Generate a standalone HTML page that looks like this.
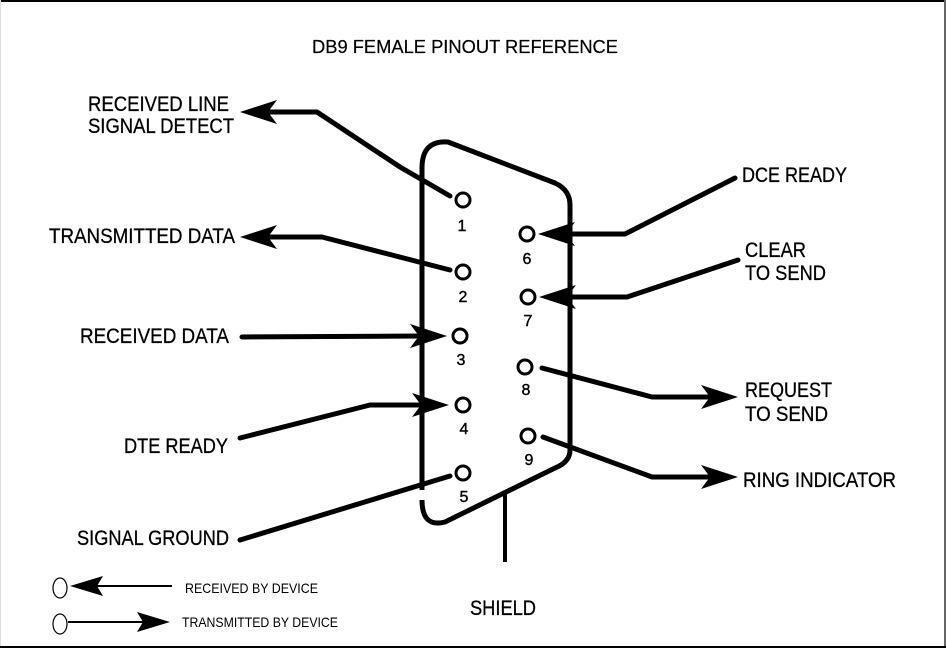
<!DOCTYPE html>
<html><head><meta charset="utf-8"><style>
html,body{margin:0;padding:0;background:#fff;}
svg{display:block;}
text{font-family:"Liberation Sans",sans-serif;fill:#000;}
</style></head><body>
<svg width="946" height="650" viewBox="0 0 946 650" xmlns="http://www.w3.org/2000/svg">
<rect x="0" y="0" width="946" height="650" fill="#fff"/>
<line x1="0" y1="1" x2="946" y2="1" stroke="#000" stroke-width="2"/>
<line x1="945" y1="0" x2="945" y2="648" stroke="#666" stroke-width="2"/>
<line x1="0.5" y1="0" x2="0.5" y2="648" stroke="#ddd" stroke-width="1"/>
<line x1="0" y1="647" x2="946" y2="647" stroke="#000" stroke-width="2"/>

<text x="312" y="53" font-size="18" textLength="306" lengthAdjust="spacingAndGlyphs" stroke="#000" stroke-width="0.2">DB9 FEMALE PINOUT REFERENCE</text>

<!-- connector shell -->
<path d="M422,490 L422,168 Q422,140 448,142 L555,183 Q570,190 570,205 L570,450 Q570,462 555,468 L445,522 Q422,528 422,500" fill="none" stroke="#000" stroke-width="5" stroke-linejoin="round"/>
<line x1="505" y1="493" x2="505" y2="562" stroke="#000" stroke-width="4"/>

<g fill="#fff" stroke="#000" stroke-width="3">
<circle cx="463" cy="200" r="7"/>
<circle cx="463" cy="272" r="7"/>
<circle cx="460" cy="336" r="7"/>
<circle cx="463" cy="405" r="7"/>
<circle cx="463" cy="473" r="7"/>
<circle cx="527" cy="234" r="7"/>
<circle cx="528" cy="297" r="7"/>
<circle cx="525" cy="367" r="7"/>
<circle cx="528" cy="436" r="7"/>
</g>
<g font-size="16" text-anchor="middle" stroke="#000" stroke-width="0.4">
<text x="462" y="231">1</text>
<text x="463" y="302">2</text>
<text x="461" y="365">3</text>
<text x="464" y="434">4</text>
<text x="464" y="502">5</text>
<text x="527" y="264">6</text>
<text x="528" y="326">7</text>
<text x="526" y="395">8</text>
<text x="529" y="465">9</text>
</g>

<g fill="none" stroke="#000" stroke-width="5" stroke-linejoin="round" stroke-linecap="round">
<polyline points="450,196 400,167 317,112 265,112"/>
<polyline points="450,270 322,237 265,237"/>
<polyline points="242,337 420,336"/>
<polyline points="240,438 370,405 422,405"/>
<polyline points="450,476 240,540"/>
<polyline points="565,234 625,234 735,178"/>
<polyline points="566,297 627,297 738,260"/>
<polyline points="542,368 652,397 712,397"/>
<polyline points="543,437 652,477 712,477"/>
</g>
<g fill="#000">
<polygon points="240,112 277,100 268,112 277,124"/>
<polygon points="240,237 277,225 268,237 277,249"/>
<polygon points="447,336 410,324 419,336 410,348"/>
<polygon points="449,405 412,393 421,405 412,417"/>
<polygon points="538,234 575,222 566,234 575,246"/>
<polygon points="539,297 576,285 567,297 576,309"/>
<polygon points="738,397 701,385 710,397 701,409"/>
<polygon points="738,477 701,465 710,477 701,489"/>
</g>

<g font-size="21" stroke="#000" stroke-width="0.3">
<text x="88" y="111" textLength="141" lengthAdjust="spacingAndGlyphs">RECEIVED LINE</text>
<text x="88" y="133" textLength="146" lengthAdjust="spacingAndGlyphs">SIGNAL DETECT</text>
<text x="49" y="243" textLength="186" lengthAdjust="spacingAndGlyphs">TRANSMITTED DATA</text>
<text x="80" y="343" textLength="149" lengthAdjust="spacingAndGlyphs">RECEIVED DATA</text>
<text x="124" y="453" textLength="104" lengthAdjust="spacingAndGlyphs">DTE READY</text>
<text x="77" y="545" textLength="152" lengthAdjust="spacingAndGlyphs">SIGNAL GROUND</text>
<text x="742" y="182" textLength="105" lengthAdjust="spacingAndGlyphs">DCE READY</text>
<text x="745" y="257" textLength="61" lengthAdjust="spacingAndGlyphs">CLEAR</text>
<text x="745" y="280" textLength="81" lengthAdjust="spacingAndGlyphs">TO SEND</text>
<text x="745" y="397" textLength="87" lengthAdjust="spacingAndGlyphs">REQUEST</text>
<text x="745" y="421" textLength="83" lengthAdjust="spacingAndGlyphs">TO SEND</text>
<text x="743" y="487" textLength="153" lengthAdjust="spacingAndGlyphs">RING INDICATOR</text>
<text x="470" y="615" textLength="66" lengthAdjust="spacingAndGlyphs">SHIELD</text>
</g>

<!-- legend -->
<ellipse cx="60" cy="588" rx="7" ry="10" fill="none" stroke="#000" stroke-width="1.2"/>
<line x1="95" y1="586" x2="172" y2="586" stroke="#000" stroke-width="2"/>
<polygon points="70,586 103,576 97,586 103,596" fill="#000"/>
<ellipse cx="60" cy="624" rx="7" ry="10" fill="none" stroke="#000" stroke-width="1.2"/>
<line x1="68" y1="622" x2="145" y2="622" stroke="#000" stroke-width="2"/>
<polygon points="170,622 137,612 143,622 137,632" fill="#000"/>
<text x="185" y="593" font-size="14" textLength="133" lengthAdjust="spacingAndGlyphs">RECEIVED BY DEVICE</text>
<text x="182" y="627" font-size="14" textLength="156" lengthAdjust="spacingAndGlyphs">TRANSMITTED BY DEVICE</text>
</svg>
</body></html>
